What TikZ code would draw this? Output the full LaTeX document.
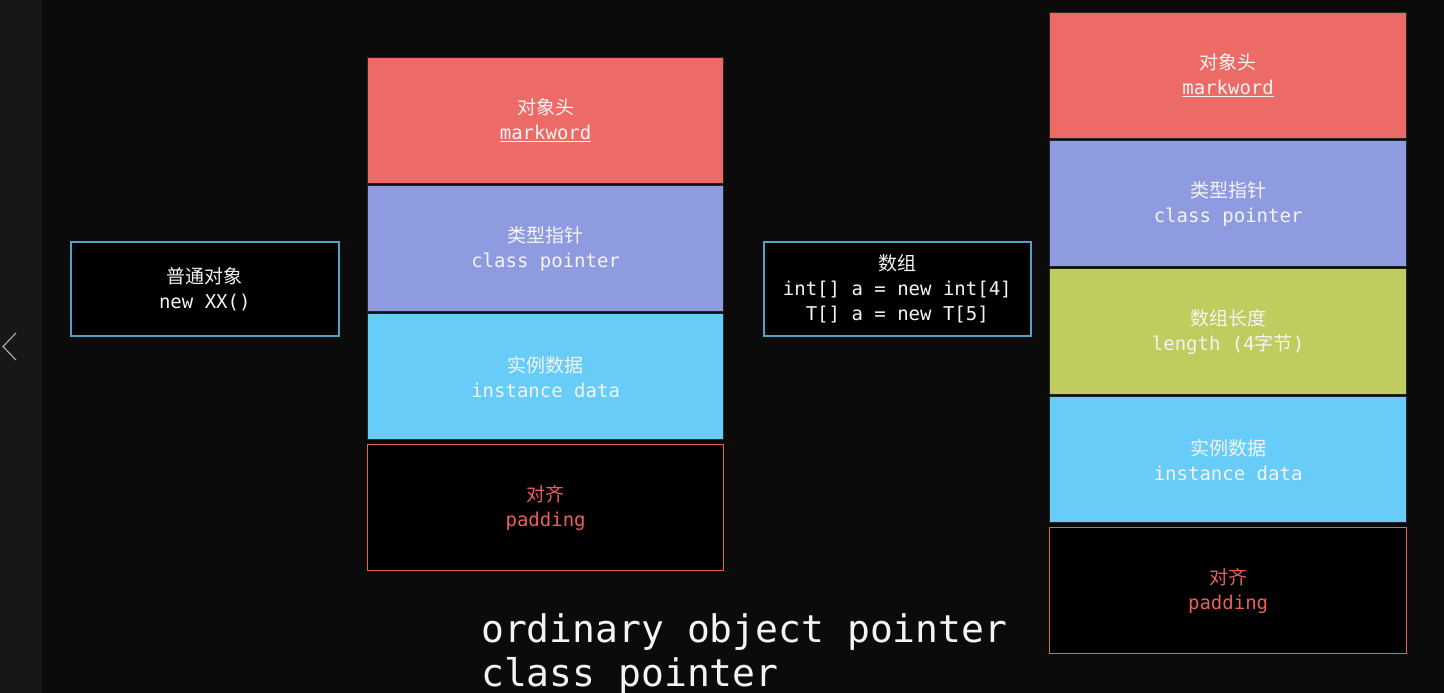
\documentclass[tikz,border=0pt]{standalone}
\usepackage{fontspec}
\newfontfamily\cjk{Noto Sans CJK SC}
\newfontfamily\mono{DejaVu Sans Mono}
\definecolor{bgdark}{HTML}{0B0B0B}
\definecolor{strip}{HTML}{171717}
\definecolor{cred}{HTML}{EC6B66}
\definecolor{cpurple}{HTML}{8F9BE0}
\definecolor{ccyan}{HTML}{67CCF8}
\definecolor{cgreen}{HTML}{BFCC5E}
\definecolor{cborder}{HTML}{4EA3C6}
\definecolor{padred}{HTML}{E8605A}
\definecolor{txt}{HTML}{F4F4F4}
\tikzset{
  cell/.style={draw=black!85, line width=1.2pt, anchor=north west,
    minimum width=356pt, minimum height=126pt, inner sep=0pt,
    align=center, text=txt, font=\fontsize{19pt}{25pt}\selectfont},
  padcell/.style={cell, draw=padred, fill=black, text=padred},
  infobox/.style={draw=cborder, line width=1.6pt, fill=black, anchor=north west,
    minimum width=268pt, minimum height=94pt, inner sep=0pt,
    align=center, text=txt, font=\fontsize{19pt}{25pt}\selectfont},
  bigtext/.style={anchor=north west, align=left, text=txt, inner sep=0pt,
    font=\fontsize{38pt}{44pt}\selectfont\mono}
}
\begin{document}
\begin{tikzpicture}[x=1pt,y=-1pt]
\useasboundingbox (0,0) rectangle (1444,693);
\fill[bgdark] (0,0) rectangle (1444,693);
\fill[strip] (0,0) rectangle (42,693);
\draw[gray!70, line width=1.2pt] (16,333) -- (3,346.5) -- (16,360);

% left info box
\node[infobox] (obj) at (70,241) {{\cjk 普通对象}\\{\mono new XX()}};

% middle column
\node[cell, fill=cred] (mw1) at (367,57) {{\cjk 对象头}\\{\mono \underline{markword}}};
\node[cell, fill=cpurple] (cp1) at (367,185) {{\cjk 类型指针}\\{\mono class pointer}};
\node[cell, fill=ccyan] (id1) at (367,313) {{\cjk 实例数据}\\{\mono instance data}};
\node[padcell] (pd1) at (367,444) {{\cjk 对齐}\\{\mono padding}};

% array info box
\node[infobox, minimum width=267pt] (arr) at (763,241) {{\cjk 数组}\\{\mono int[] a = new int[4]}\\{\mono T[] a = new T[5]}};

% right column
\node[cell, fill=cred, minimum width=357pt] (mw2) at (1049,12) {{\cjk 对象头}\\{\mono \underline{markword}}};
\node[cell, fill=cpurple, minimum width=357pt] (cp2) at (1049,140) {{\cjk 类型指针}\\{\mono class pointer}};
\node[cell, fill=cgreen, minimum width=357pt] (len2) at (1049,268) {{\cjk 数组长度}\\{\mono length (4}{\cjk 字节}{\mono )}};
\node[cell, fill=ccyan, minimum width=357pt] (id2) at (1049,396) {{\cjk 实例数据}\\{\mono instance data}};
\node[padcell, minimum width=357pt] (pd2) at (1049,527) {{\cjk 对齐}\\{\mono padding}};

% bottom text
\node[bigtext] (oop) at (481,613) {ordinary object pointer\\class pointer};
\end{tikzpicture}
\end{document}
